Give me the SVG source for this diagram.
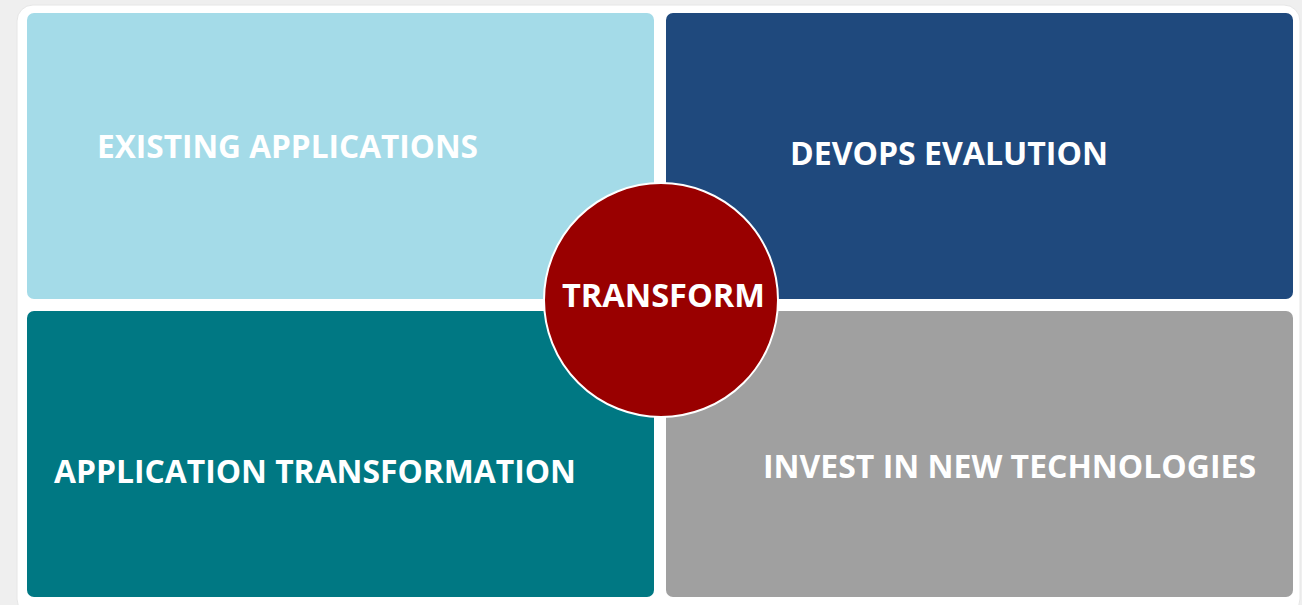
<svg xmlns="http://www.w3.org/2000/svg" width="1302" height="605" viewBox="0 0 1302 605">
<style>
.lbl{font-family:"Open Sans","Liberation Sans",sans-serif;font-weight:bold;fill:#ffffff;}
.tile{stroke:none;}
</style>
<rect x="0" y="0" width="1302" height="605" fill="#efefef"/>
<rect x="17" y="5" width="1283" height="610" rx="16" fill="#ffffff" stroke="#e6e6e6" stroke-width="1"/>
<g id="existing-applications">
<rect class="tile" x="27" y="13" width="627" height="286" rx="7" fill="#a4dbe8"/>
<text class="lbl" x="97" y="158" font-size="32" textLength="381" lengthAdjust="spacingAndGlyphs">EXISTING APPLICATIONS</text>
</g>
<g id="devops-evalution">
<rect class="tile" x="666" y="13" width="627" height="286" rx="7" fill="#1f497d"/>
<text class="lbl" x="790" y="165" font-size="32" textLength="318" lengthAdjust="spacingAndGlyphs">DEVOPS EVALUTION</text>
</g>
<g id="application-transformation">
<rect class="tile" x="27" y="311" width="627" height="286" rx="7" fill="#007883"/>
<text class="lbl" x="54" y="483" font-size="32" textLength="522" lengthAdjust="spacingAndGlyphs">APPLICATION TRANSFORMATION</text>
</g>
<g id="invest-in-new-technologies">
<rect class="tile" x="666" y="311" width="627" height="286" rx="7" fill="#a0a0a0"/>
<text class="lbl" x="763" y="478" font-size="32" textLength="493" lengthAdjust="spacingAndGlyphs">INVEST IN NEW TECHNOLOGIES</text>
</g>
<g id="transform">
<circle cx="661" cy="300" r="117" fill="#990000" stroke="#ffffff" stroke-width="2"/>
<text class="lbl" x="562" y="307" font-size="32" textLength="203" lengthAdjust="spacingAndGlyphs">TRANSFORM</text>
</g>
<g id="connectors"></g>
</svg>
